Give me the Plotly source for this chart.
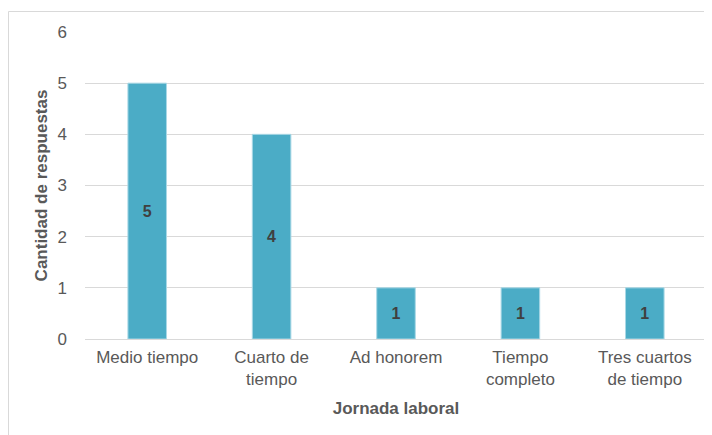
import plotly.graph_objects as go

categories = ["Medio tiempo", "Cuarto de<br>tiempo", "Ad honorem", "Tiempo<br>completo", "Tres cuartos<br>de tiempo"]
values = [5, 4, 1, 1, 1]
y_ticks = [0, 1, 2, 3, 4, 5, 6]

# page body has an 8px margin; figure is sized to fill the rest of the window
W, H = 704, 427
ml, mr, mt, mb = 77, 5, 24, 96
pw = W - ml - mr
ph = H - mt - mb

FONT = "Liberation Sans, Arial"
GREY = "#595959"

fig = go.Figure(go.Bar(
    x=categories, y=values,
    marker=dict(color="#4BACC6", line=dict(color="#A9D8E6", width=1)),
    text=[str(v) for v in values],
    textposition="inside", insidetextanchor="middle",
    textfont=dict(family=FONT, size=16, color="#404040", weight="bold"),
    width=0.31, hoverinfo="skip",
))

fig.update_layout(
    width=W, height=H,
    margin=dict(l=ml, r=mr, t=mt, b=mb),
    paper_bgcolor="white", plot_bgcolor="white",
    font=dict(family=FONT, size=16, color=GREY),
    showlegend=False,
    xaxis=dict(
        title=dict(text="<b>Jornada laboral</b>", font=dict(size=17, color=GREY), standoff=14),
        showgrid=False, showline=False, ticks="", tickfont=dict(size=17, color=GREY),
        ticklabelstandoff=6,
    ),
    yaxis=dict(
        title=dict(text="<b>Cantidad de respuestas</b>", font=dict(size=17, color=GREY), standoff=5),
        range=[0, 6], tickvals=y_ticks, showgrid=True, gridcolor="#D9D9D9", gridwidth=1,
        zeroline=True, zerolinecolor="#D9D9D9", zerolinewidth=1, showline=False, ticks="",
        ticklabelstandoff=17, tickfont=dict(size=17, color=GREY),
    ),
    shapes=[
        dict(type="line", xref="paper", yref="paper",
             x0=(0.5 - ml) / pw, x1=(W + 5 - ml) / pw,
             y0=(ph + mt - 3.5) / ph, y1=(ph + mt - 3.5) / ph,
             line=dict(color="#D9D9D9", width=1)),
        dict(type="line", xref="paper", yref="paper",
             x0=(0.5 - ml) / pw, x1=(0.5 - ml) / pw,
             y0=(ph + mt - 3.5) / ph, y1=-(mb + 5) / ph,
             line=dict(color="#D9D9D9", width=1)),
    ],
)

fig.write_html("out.html")
